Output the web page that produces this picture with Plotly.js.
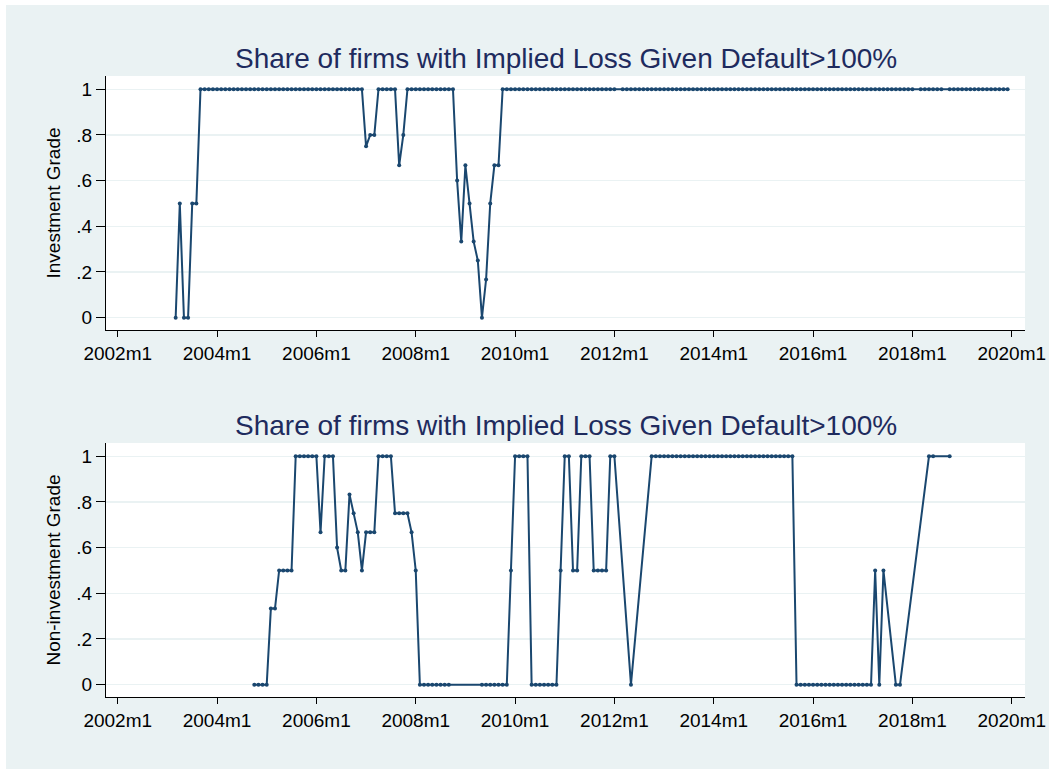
<!DOCTYPE html>
<html>
<head>
<meta charset="utf-8">
<script src="https://cdn.plot.ly/plotly-3.0.1.min.js"></script>
<style>
  body { margin: 0; background: #ffffff; }
  #chart { position: absolute; left: 6px; top: 5px; width: 1043px; height: 764px; }
</style>
</head>
<body>
<div id="chart"></div>
<script>
// Stata monthly dates, tick labels
const tickLabels = ['2002m1', '2004m1', '2006m1', '2008m1', '2010m1', '2012m1', '2014m1', '2016m1', '2018m1', '2020m1'];
const yTickVals = [0, 0.2, 0.4, 0.6, 0.8, 1];
const yTickText = ['0', '.2', '.4', '.6', '.8', '1'];

// Investment grade
const igMonths = [
    '2003m3', '2003m4', '2003m5', '2003m6', '2003m7', '2003m8', '2003m9', '2003m10', '2003m11', '2003m12',
    '2004m1', '2004m2', '2004m3', '2004m4', '2004m5', '2004m6', '2004m7', '2004m8', '2004m9', '2004m10', '2004m11', '2004m12',
    '2005m1', '2005m2', '2005m3', '2005m4', '2005m5', '2005m6', '2005m7', '2005m8', '2005m9', '2005m10', '2005m11', '2005m12',
    '2006m1', '2006m2', '2006m3', '2006m4', '2006m5', '2006m6', '2006m7', '2006m8', '2006m9', '2006m10', '2006m11', '2006m12',
    '2007m1', '2007m2', '2007m3', '2007m4', '2007m5', '2007m6', '2007m7', '2007m8', '2007m9', '2007m10', '2007m11', '2007m12',
    '2008m1', '2008m2', '2008m3', '2008m4', '2008m5', '2008m6', '2008m7', '2008m8', '2008m9', '2008m10', '2008m11', '2008m12',
    '2009m1', '2009m2', '2009m3', '2009m4', '2009m5', '2009m6', '2009m7', '2009m8', '2009m9', '2009m10', '2009m11', '2009m12',
    '2010m1', '2010m2', '2010m3', '2010m4', '2010m5', '2010m6', '2010m7', '2010m8', '2010m9', '2010m10', '2010m11', '2010m12',
    '2011m1', '2011m2', '2011m3', '2011m4', '2011m5', '2011m6', '2011m7', '2011m8', '2011m9', '2011m10', '2011m11', '2011m12',
    '2012m1', '2012m3', '2012m4', '2012m5', '2012m6', '2012m7', '2012m8', '2012m9', '2012m10', '2012m11', '2012m12',
    '2013m1', '2013m2', '2013m3', '2013m4', '2013m5', '2013m6', '2013m7', '2013m8', '2013m9', '2013m10', '2013m11', '2013m12',
    '2014m1', '2014m2', '2014m3', '2014m4', '2014m5', '2014m6', '2014m7', '2014m8', '2014m9', '2014m10', '2014m11', '2014m12',
    '2015m1', '2015m2', '2015m3', '2015m4', '2015m5', '2015m6', '2015m7', '2015m8', '2015m9', '2015m10', '2015m11', '2015m12',
    '2016m1', '2016m2', '2016m3', '2016m4', '2016m5', '2016m6', '2016m7', '2016m8', '2016m9', '2016m10', '2016m11', '2016m12',
    '2017m1', '2017m2', '2017m3', '2017m4', '2017m5', '2017m6', '2017m7', '2017m8', '2017m9', '2017m10', '2017m11', '2017m12',
    '2018m1', '2018m3', '2018m4', '2018m5', '2018m6', '2018m7', '2018m8', '2018m10', '2018m11', '2018m12',
    '2019m1', '2019m2', '2019m3', '2019m4', '2019m5', '2019m6', '2019m7', '2019m8', '2019m9', '2019m10', '2019m11', '2019m12'
];
const igShare = [
    0, .5, 0, 0, .5, .5, 1, 1, 1, 1,
    1, 1, 1, 1, 1, 1, 1, 1, 1, 1, 1, 1,
    1, 1, 1, 1, 1, 1, 1, 1, 1, 1, 1, 1,
    1, 1, 1, 1, 1, 1, 1, 1, 1, 1, 1, 1,
    .75, .8, .8, 1, 1, 1, 1, 1, .667, .8, 1, 1,
    1, 1, 1, 1, 1, 1, 1, 1, 1, 1, .6, .333,
    .667, .5, .333, .25, 0, .167, .5, .667, .667, 1, 1, 1,
    1, 1, 1, 1, 1, 1, 1, 1, 1, 1, 1, 1,
    1, 1, 1, 1, 1, 1, 1, 1, 1, 1, 1, 1,
    1, 1, 1, 1, 1, 1, 1, 1, 1, 1, 1,
    1, 1, 1, 1, 1, 1, 1, 1, 1, 1, 1, 1,
    1, 1, 1, 1, 1, 1, 1, 1, 1, 1, 1, 1,
    1, 1, 1, 1, 1, 1, 1, 1, 1, 1, 1, 1,
    1, 1, 1, 1, 1, 1, 1, 1, 1, 1, 1, 1,
    1, 1, 1, 1, 1, 1, 1, 1, 1, 1, 1, 1,
    1, 1, 1, 1, 1, 1, 1, 1, 1, 1,
    1, 1, 1, 1, 1, 1, 1, 1, 1, 1, 1, 1
];

// Non-investment grade
const nigMonths = [
    '2004m10', '2004m11', '2004m12',
    '2005m1', '2005m2', '2005m3', '2005m4', '2005m5', '2005m6', '2005m7', '2005m8', '2005m9', '2005m10', '2005m11', '2005m12',
    '2006m1', '2006m2', '2006m3', '2006m4', '2006m5', '2006m6', '2006m7', '2006m8', '2006m9', '2006m10', '2006m11', '2006m12',
    '2007m1', '2007m2', '2007m3', '2007m4', '2007m5', '2007m6', '2007m7', '2007m8', '2007m9', '2007m10', '2007m11', '2007m12',
    '2008m1', '2008m2', '2008m3', '2008m4', '2008m5', '2008m6', '2008m7', '2008m8', '2008m9',
    '2009m5', '2009m6', '2009m7', '2009m8', '2009m9', '2009m10', '2009m11', '2009m12',
    '2010m1', '2010m2', '2010m3', '2010m4', '2010m5', '2010m6', '2010m7', '2010m8', '2010m9', '2010m10', '2010m11', '2010m12',
    '2011m1', '2011m2', '2011m3', '2011m4', '2011m5', '2011m6', '2011m7', '2011m8', '2011m9', '2011m10', '2011m11', '2011m12',
    '2012m1', '2012m5', '2012m10', '2012m11', '2012m12',
    '2013m1', '2013m2', '2013m3', '2013m4', '2013m5', '2013m6', '2013m7', '2013m8', '2013m9', '2013m10', '2013m11', '2013m12',
    '2014m1', '2014m2', '2014m3', '2014m4', '2014m5', '2014m6', '2014m7', '2014m8', '2014m9', '2014m10', '2014m11', '2014m12',
    '2015m1', '2015m2', '2015m3', '2015m4', '2015m5', '2015m6', '2015m7', '2015m8', '2015m9', '2015m10', '2015m11', '2015m12',
    '2016m1', '2016m2', '2016m3', '2016m4', '2016m5', '2016m6', '2016m7', '2016m8', '2016m9', '2016m10', '2016m11', '2016m12',
    '2017m1', '2017m2', '2017m3', '2017m4', '2017m5', '2017m6', '2017m9', '2017m10',
    '2018m5', '2018m6', '2018m10'
];
const nigShare = [
    0, 0, 0,
    0, .333, .333, .5, .5, .5, .5, 1, 1, 1, 1, 1,
    1, .667, 1, 1, 1, .6, .5, .5, .833, .75, .667, .5,
    .667, .667, .667, 1, 1, 1, 1, .75, .75, .75, .75, .667,
    .5, 0, 0, 0, 0, 0, 0, 0, 0,
    0, 0, 0, 0, 0, 0, 0, .5,
    1, 1, 1, 1, 0, 0, 0, 0, 0, 0, 0, .5,
    1, 1, .5, .5, 1, 1, 1, .5, .5, .5, .5, 1,
    1, 0, 1, 1, 1,
    1, 1, 1, 1, 1, 1, 1, 1, 1, 1, 1, 1,
    1, 1, 1, 1, 1, 1, 1, 1, 1, 1, 1, 1,
    1, 1, 1, 1, 1, 1, 1, 1, 0, 0, 0, 0,
    0, 0, 0, 0, 0, 0, 0, 0, 0, 0, 0, 0,
    0, 0, 0, .5, 0, .5, 0, 0,
    1, 1, 1
];

const titleText = 'Share of firms with Implied Loss Given Default>100%';

// '2003m3' -> Stata %tm number
function tm(s) {
    const parts = s.split('m').map(Number);
    return (parts[0] - 1960) * 12 + parts[1] - 1;
}

const navy = '#1a476f';
const bluishGray = '#eaf2f3';
const font = 'Liberation Sans, Arial, sans-serif';

function series(months, vals, xa, ya) {
    return {
        x: months.map(tm),
        y: vals,
        xaxis: xa,
        yaxis: ya,
        type: 'scatter',
        mode: 'lines+markers',
        line: { color: navy, width: 2 },
        marker: { color: navy, size: 4 }
    };
}

function xAxis(anchor) {
    return {
        anchor: anchor,
        domain: [0, 1],
        range: [tm('2002m1') - 2.83, tm('2020m1') + 3.2],
        tickvals: tickLabels.map(tm),
        ticktext: tickLabels,
        ticks: 'outside',
        ticklen: 6,
        tickcolor: '#000',
        showline: true,
        linecolor: '#000',
        linewidth: 1,
        showgrid: false,
        zeroline: false,
        tickfont: { family: font, size: 19, color: '#000' }
    };
}

function yAxis(anchor, domain, title) {
    return {
        anchor: anchor,
        domain: domain,
        range: [-0.054, 1.058],
        tickvals: yTickVals,
        ticktext: yTickText,
        ticks: 'outside',
        ticklen: 9,
        tickcolor: '#000',
        showline: true,
        linecolor: '#000',
        linewidth: 1,
        gridcolor: bluishGray,
        gridwidth: 1.5,
        zeroline: false,
        tickfont: { family: font, size: 19, color: '#000' },
        title: { text: title, standoff: 10, font: { family: font, size: 19, color: '#000' } }
    };
}

const layout = {
    width: 1043,
    height: 764,
    paper_bgcolor: bluishGray,
    plot_bgcolor: '#ffffff',
    showlegend: false,
    margin: { l: 100, r: 24, t: 71, b: 72 },
    xaxis: xAxis('y'),
    yaxis: yAxis('x', [0.591, 1], 'Investment Grade'),
    xaxis2: xAxis('y2'),
    yaxis2: yAxis('x2', [0, 0.409], 'Non-investment Grade'),
    annotations: [
        {
            text: titleText, xref: 'paper', yref: 'paper', x: 0.5, y: 1.0274,
            xanchor: 'center', yanchor: 'middle', showarrow: false,
            font: { family: font, size: 28, color: '#1e2b5e' }
        },
        {
            text: titleText, xref: 'paper', yref: 'paper', x: 0.5, y: 0.438,
            xanchor: 'center', yanchor: 'middle', showarrow: false,
            font: { family: font, size: 28, color: '#1e2b5e' }
        }
    ]
};

Plotly.newPlot('chart', [
    series(igMonths, igShare, 'x', 'y'),
    series(nigMonths, nigShare, 'x2', 'y2')
], layout, { displayModeBar: false, staticPlot: true });
</script>
</body>
</html>
